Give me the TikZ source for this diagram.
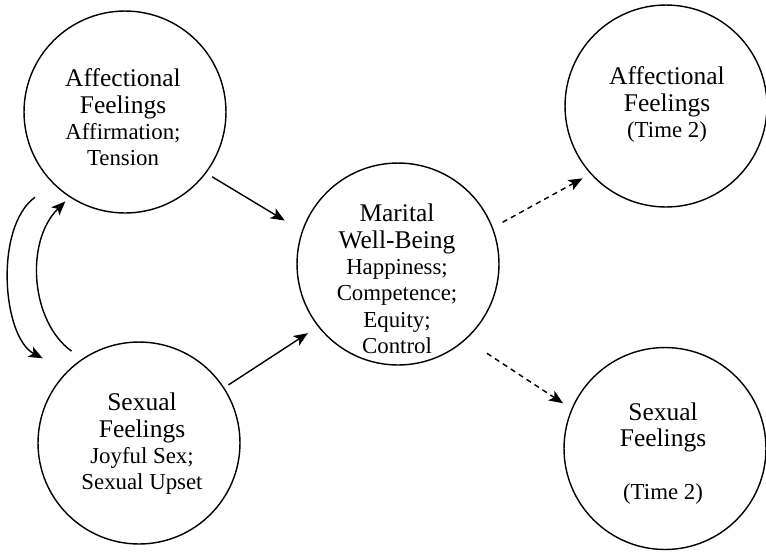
\documentclass[tikz,border=0pt]{standalone}
\usepackage{fontspec}
\setmainfont{Liberation Serif}
\usepackage{tikz}
\usetikzlibrary{arrows.meta}
\tikzstyle{Ring}=[circle,draw=black,line width=.8pt,minimum size=4.04cm,
inner sep=0pt]
\tikzstyle{Lines}=[align=center,inner sep=0pt,
font=\fontsize{14.5}{15}\selectfont]
\tikzstyle{Edge}=[draw=black,line width=.8pt,
-{Stealth[length=8pt,width=6.5pt,inset=2pt]}]
\tikzstyle{EdgeT}=[Edge,dash pattern=on 3pt off 2.4pt]
\newcommand{\Sub}[1]{{\fontsize{13}{15}\selectfont #1}}

\begin{document}
\begin{tikzpicture}[x=.02cm,y=.02cm]
        \useasboundingbox(0,0)rectangle(766,-552);
        \node[Ring](aff)at(125.00,-112.00){};
        \node[Ring](sex)at(139.00,-443.00){};
        \node[Ring](mwb)at(398.00,-264.00){};
        \node[Ring](affT)at(666.00,-106.00){};
        \node[Ring](sexT)at(665.00,-448.50){};
        \node[Lines](aff-t)at(123.00,-117.50)
            {Affectional\\Feelings\\\Sub{Affirmation;}\\\Sub{Tension}};
        \node[Lines](sex-t)at(142.00,-444.00)
            {Sexual\\Feelings\\\Sub{Joyful Sex;}\\\Sub{Sexual Upset}};
        \node[Lines](mwb-t)at(397.00,-279.00)
            {Marital\\Well-Being\\\Sub{Happiness;}\\\Sub{Competence;}\\
            \Sub{Equity;}\\\Sub{Control}};
        \node[Lines](affT-t)at(667.00,-104.50)
            {Affectional\\Feelings\\\Sub{(Time 2)}};
        \node[Lines](sexT-t)at(663.00,-453.50)
            {Sexual\\Feelings\\[15pt]\Sub{(Time 2)}};
        \draw[Edge,shorten <=.14cm,shorten >=.4cm](aff.-37)--(mwb.161);
        \draw[Edge,shorten <=.1cm,shorten >=.24cm](sex.33)--(mwb.218);
        \draw[EdgeT,shorten <=.22cm,shorten >=.18cm](mwb.21)--(affT.222);
        \draw[EdgeT,shorten <=.5cm,shorten >=.2cm](mwb.-48)--(sexT.157);
        \draw[Edge,shorten <=.45cm,shorten >=.55cm]
            (aff.225)to[bend right=58](sex.135);
        \draw[Edge,shorten <=.26cm,shorten >=.12cm]
            (sex.124)to[bend left=50](aff.237);
    \end{tikzpicture}
\end{document}
